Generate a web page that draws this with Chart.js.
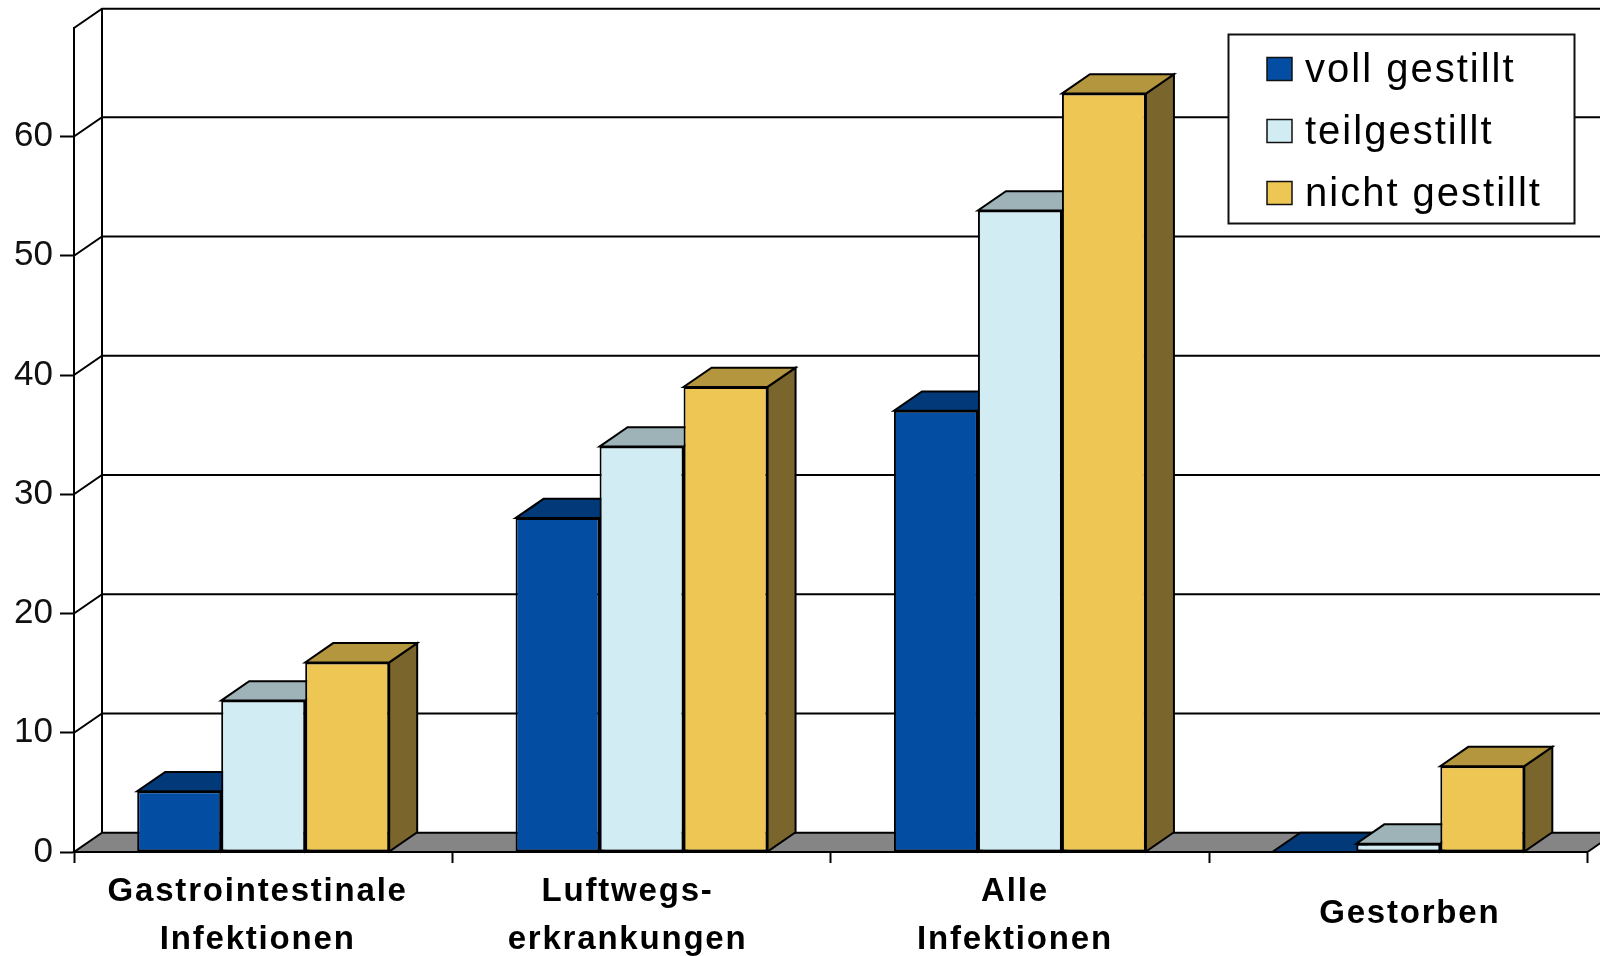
<!DOCTYPE html>
<html>
<head>
<meta charset="utf-8">
<title>Infektionen nach Stillstatus</title>
<script src="https://cdn.jsdelivr.net/npm/chart.js@4/dist/chart.umd.min.js"></script>
<style>
  html, body { margin: 0; padding: 0; background: #ffffff; }
  #wrap { width: 1600px; height: 956px; }
</style>
</head>
<body>
<div id="wrap"><canvas id="chart" width="1600" height="956"></canvas></div>
<script>
// Categories (x axis) and the three series
const categories = [
  ['Gastrointestinale', 'Infektionen'],
  ['Luftwegs-', 'erkrankungen'],
  ['Alle', 'Infektionen'],
  'Gestorben'
];
const seriesNames = ['voll gestillt', 'teilgestillt', 'nicht gestillt'];
const vollGestillt  = [5.1, 28, 37, 0];
const teilGestillt  = [12.7, 34, 53.8, 0.7];
const nichtGestillt = [15.9, 39, 63.6, 7.2];
const yTicks = [0, 10, 20, 30, 40, 50, 60];
const yMax = 69.1;

// Face colours of the 3D columns: front, top, side
const frontColors = ['#034EA2', '#D1ECF2', '#EEC654'];
const topColors   = ['#023A79', '#9EB3B8', '#B4963F'];
const sideColors  = ['#012B5C', '#6F7F83', '#7A652C'];
const floorColor  = '#858585';

// Oblique depth offset used for walls, floor and columns
const DEPTH = { dx: 28, dy: -19.3 };
const LINE = 2;
const FONT = "'Liberation Sans', Arial, Helvetica, sans-serif";
// small per-label nudges of the category captions (px)
const LABEL_NUDGE = [[-5.5, 0], [-14, 0], [-5, 0], [11.5, -2]];

function poly(ctx, pts, fill) {
  ctx.beginPath();
  ctx.moveTo(pts[0][0], pts[0][1]);
  for (let i = 1; i < pts.length; i++) ctx.lineTo(pts[i][0], pts[i][1]);
  ctx.closePath();
  if (fill) { ctx.fillStyle = fill; ctx.fill(); }
  ctx.stroke();
}

// Back wall, left wall, floor and the top/side faces of each column
const box3d = {
  id: 'box3d',
  beforeDraw(chart) {
    // bold category labels are drawn slightly letter-spaced and nudged
    const xs = chart.scales.x;
    if (xs && !xs._spaced) {
      const orig = xs.drawLabels.bind(xs);
      xs.drawLabels = function (area) {
        const items = xs.getLabelItems(area);
        if (!items._nudged) {
          items.forEach((it, k) => {
            const n = LABEL_NUDGE[k] || [0, 0];
            it.options.translation[0] += n[0];
            it.options.translation[1] += n[1];
          });
          items._nudged = true;
        }
        const c = chart.ctx;
        c.save();
        c.letterSpacing = '1.8px';
        orig(area);
        c.restore();
      };
      xs._spaced = true;
    }
  },
  beforeDatasetsDraw(chart) {
    const { ctx, chartArea: a, scales: { y } } = chart;
    const { dx, dy } = DEPTH;
    ctx.save();
    ctx.lineWidth = LINE;
    ctx.strokeStyle = '#000';
    ctx.lineJoin = 'miter';
    ctx.lineCap = 'butt';

    // gridlines on the back wall, joined to the front axis by the left wall
    const levels = yTicks.filter(v => v > 0).concat([yMax]);
    levels.forEach(v => {
      const py = y.getPixelForValue(v);
      ctx.beginPath();
      ctx.moveTo(a.left, py);
      ctx.lineTo(a.left + dx, py + dy);
      ctx.lineTo(chart.width + 20, py + dy);
      ctx.stroke();
    });
    const topPx = y.getPixelForValue(yMax);
    ctx.beginPath();
    ctx.moveTo(a.left + dx, topPx + dy);
    ctx.lineTo(a.left + dx, a.bottom + dy);
    ctx.stroke();

    // floor
    poly(ctx, [
      [a.left, a.bottom], [a.right, a.bottom],
      [a.right + dx, a.bottom + dy], [a.left + dx, a.bottom + dy]
    ], floorColor);

    // side and top faces, left to right
    const n = chart.data.labels.length;
    for (let j = 0; j < n; j++) {
      chart.data.datasets.forEach((ds, i) => {
        const el = chart.getDatasetMeta(i).data[j];
        if (!el) return;
        const p = el.getProps(['x', 'y', 'base', 'width'], true);
        const l = p.x - p.width / 2, r = p.x + p.width / 2;
        poly(ctx, [[r, p.y], [r, p.base], [r + dx, p.base + dy], [r + dx, p.y + dy]], sideColors[i]);
        poly(ctx, [[l, p.y], [r, p.y], [r + dx, p.y + dy], [l + dx, p.y + dy]], topColors[i]);
      });
    }
    ctx.restore();
  },
  afterDraw(chart) {
    // framed legend in the upper right corner
    const ctx = chart.ctx;
    ctx.save();
    ctx.lineWidth = LINE;
    ctx.strokeStyle = '#111';
    ctx.fillStyle = '#ffffff';
    ctx.fillRect(1228.5, 34.5, 346, 189);
    ctx.strokeRect(1228.5, 34.5, 346, 189);
    ctx.font = '40px ' + FONT;
    ctx.letterSpacing = '2px';
    ctx.textAlign = 'left';
    ctx.textBaseline = 'alphabetic';
    chart.data.datasets.forEach((ds, i) => {
      const cy = 69 + i * 62;
      ctx.fillStyle = ds.backgroundColor;
      ctx.lineWidth = 1.5;
      ctx.fillRect(1267, cy - 11.5, 25, 23);
      ctx.strokeRect(1267, cy - 11.5, 25, 23);
      ctx.fillStyle = '#000';
      ctx.fillText(ds.label, 1305, cy + 12.5);
    });
    ctx.restore();
  }
};

new Chart(document.getElementById('chart'), {
  type: 'bar',
  data: {
    labels: categories,
    datasets: [
      { label: seriesNames[0], data: vollGestillt,  backgroundColor: frontColors[0] },
      { label: seriesNames[1], data: teilGestillt,  backgroundColor: frontColors[1] },
      { label: seriesNames[2], data: nichtGestillt, backgroundColor: frontColors[2] }
    ]
  },
  options: {
    responsive: false,
    devicePixelRatio: 1,
    animation: false,
    layout: { padding: { left: 0, right: 12.5, top: 26.7, bottom: 0 } },
    datasets: {
      bar: {
        categoryPercentage: 0.666,
        barPercentage: 1.0,
        borderColor: '#000',
        borderWidth: LINE,
        borderSkipped: false
      }
    },
    plugins: {
      legend: { display: false },
      tooltip: { enabled: false }
    },
    scales: {
      x: {
        type: 'category',
        offset: true,
        grid: {
          offset: true,
          drawOnChartArea: false,
          drawTicks: true,
          tickLength: 11,
          tickWidth: LINE,
          tickColor: '#000'
        },
        border: { display: true, color: '#000', width: LINE },
        ticks: {
          autoSkip: false,
          maxRotation: 0,
          minRotation: 0,
          crossAlign: 'center',
          padding: 28.5,
          color: '#000',
          font: { family: FONT, size: 33, weight: 'bold', lineHeight: 1.4545 }
        },
        afterFit(scale) { scale.height = 104; }
      },
      y: {
        min: 0,
        max: yMax,
        grid: {
          drawOnChartArea: false,
          drawTicks: true,
          tickLength: 14,
          tickWidth: LINE,
          tickColor: '#000'
        },
        border: { display: true, color: '#000', width: LINE },
        ticks: {
          padding: 7,
          color: '#111',
          font: { family: FONT, size: 35 }
        },
        afterBuildTicks(scale) { scale.ticks = yTicks.map(v => ({ value: v })); },
        afterFit(scale) { scale.width = 74; }
      }
    }
  },
  plugins: [box3d]
});
</script>
</body>
</html>
